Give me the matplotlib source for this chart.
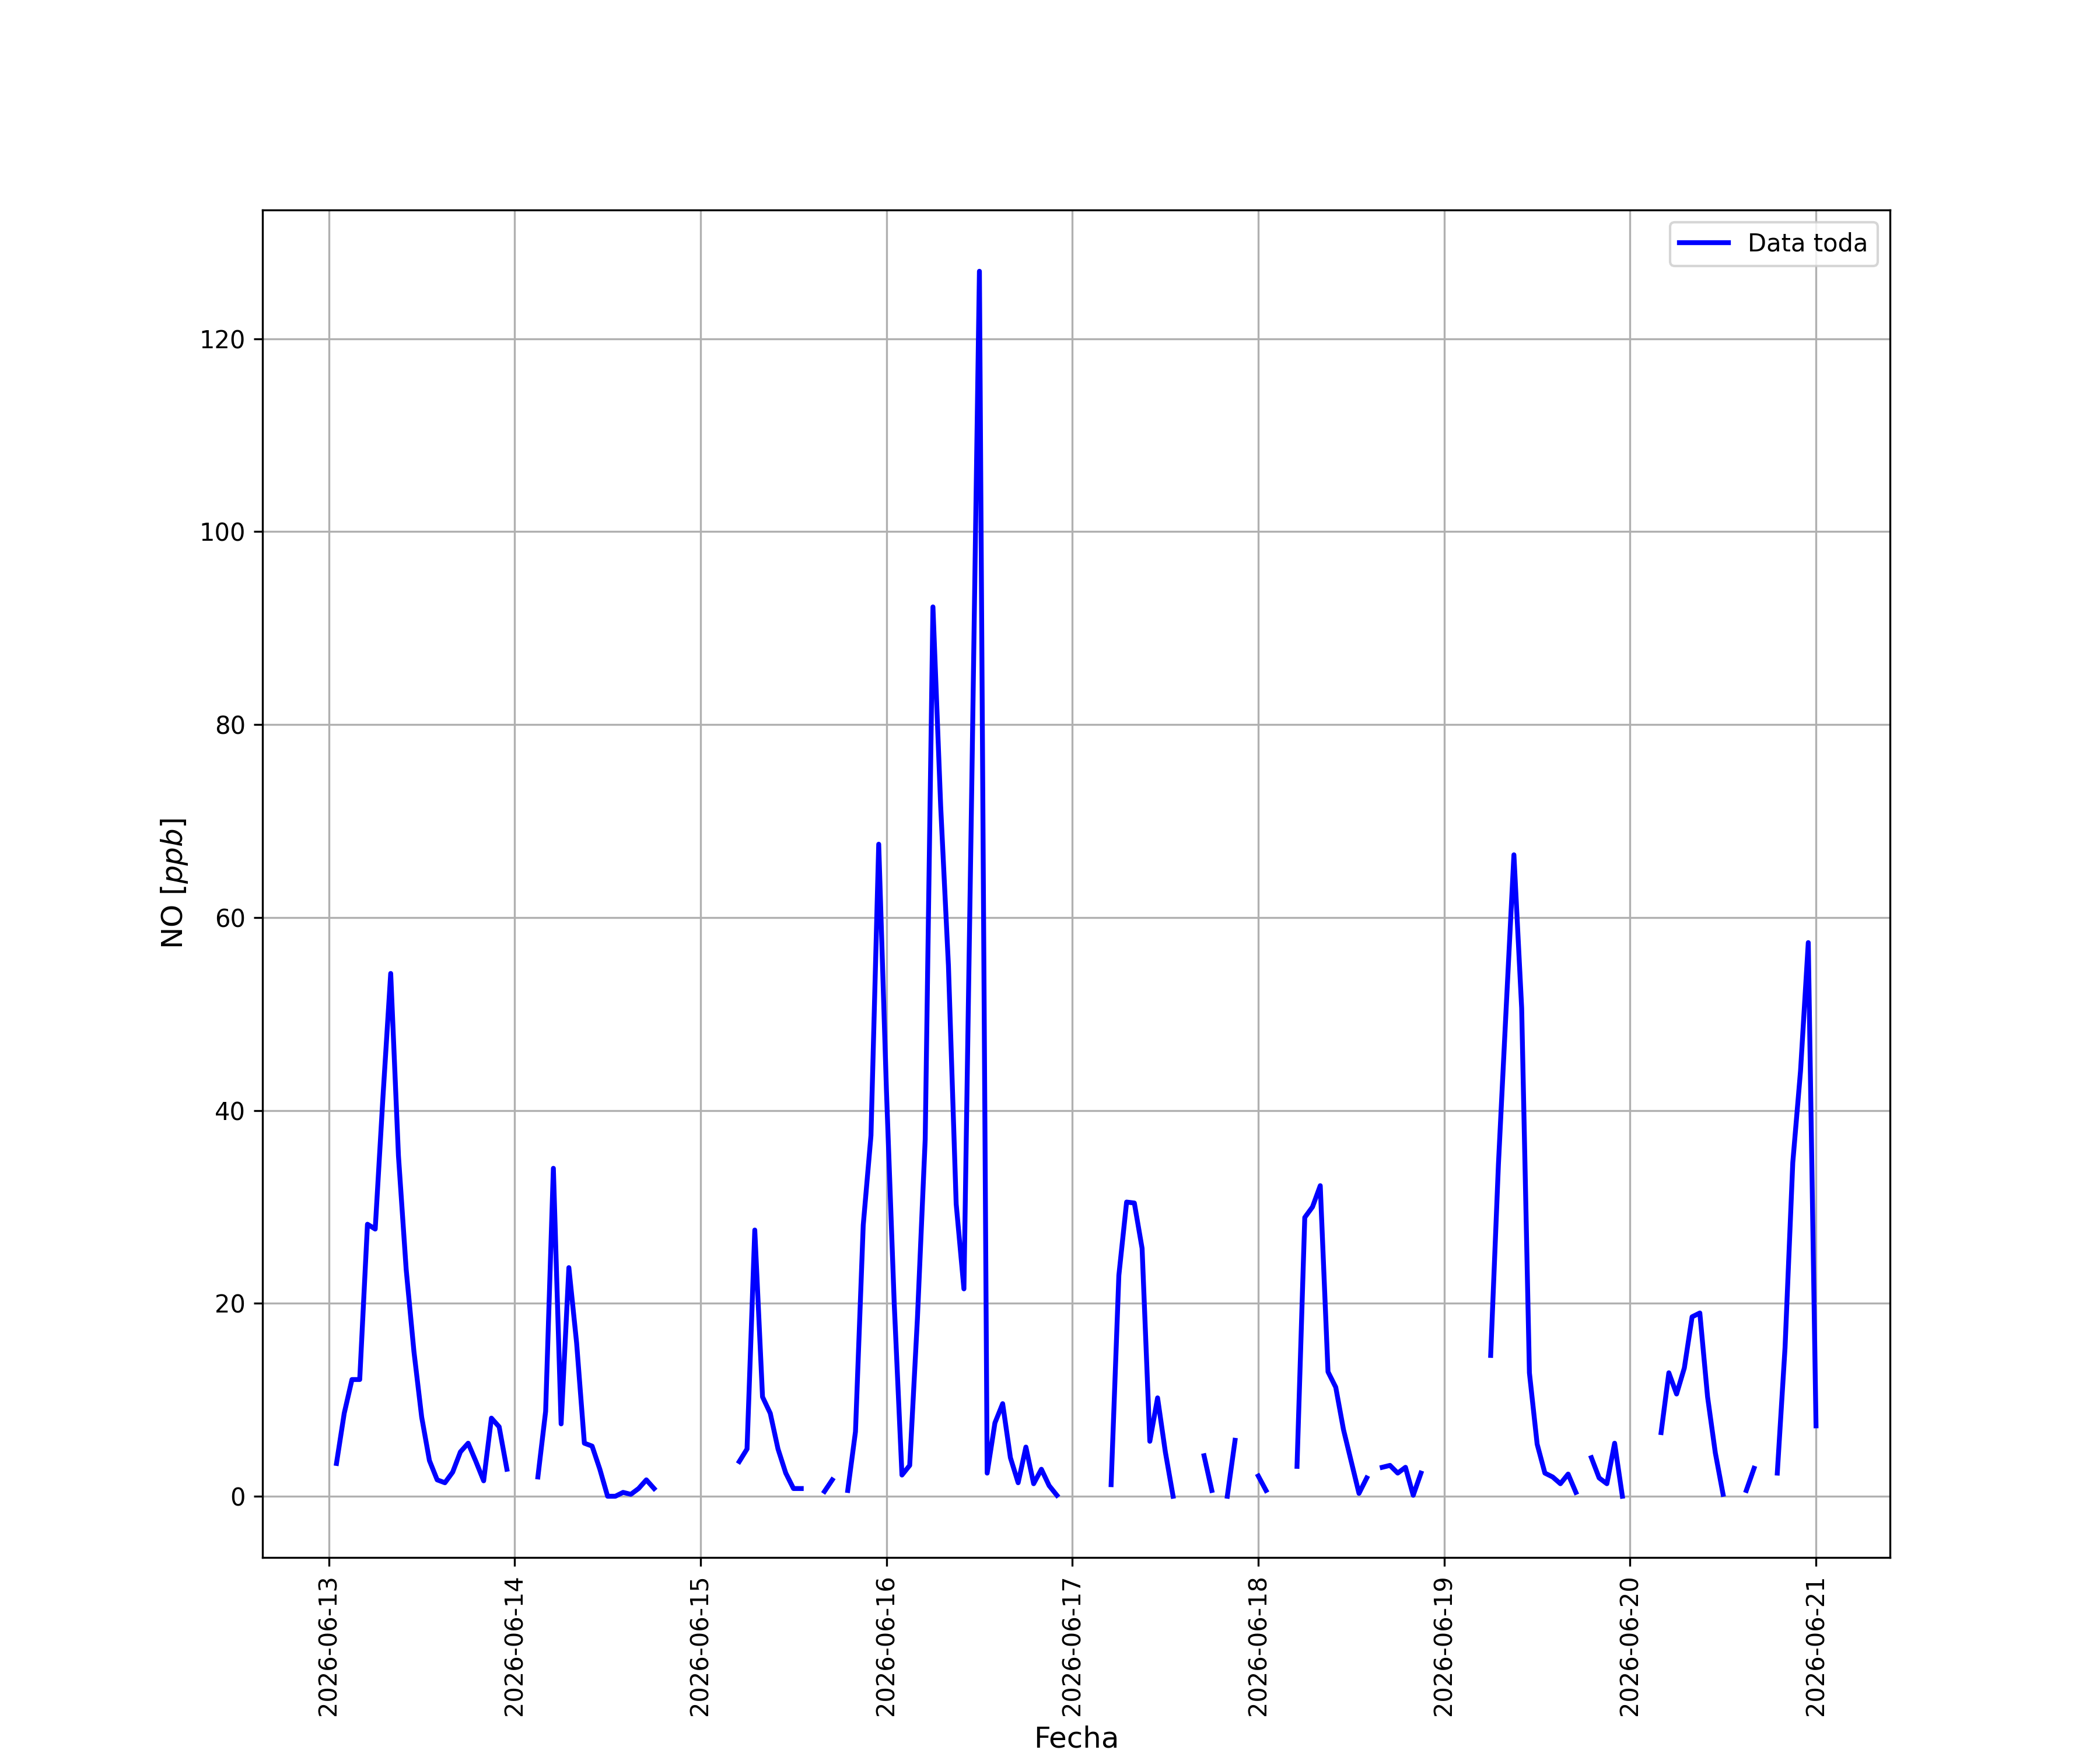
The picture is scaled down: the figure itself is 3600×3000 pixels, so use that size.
import numpy as np
import pandas as pd
import matplotlib
matplotlib.use("Agg")
import matplotlib.pyplot as plt
import matplotlib.dates as mdates

nan = np.nan

# NO horario [ppb], una lista por dia (00:00 ... 23:00)
no_13 = [nan, 3.4, 8.6, 12.1, 12.1, 28.2, 27.7, 41.4, 54.2, 35.3, 23.5, 15.0,
         8.2, 3.7, 1.7, 1.4, 2.5, 4.6, 5.5, 3.6, 1.6, 8.1, 7.2, 2.8]
no_14 = [nan, nan, nan, 2.0, 8.8, 34.0, 7.5, 23.7, 15.9, 5.5, 5.2, 2.8,
         0.0, 0.0, 0.4, 0.2, 0.8, 1.7, 0.8, nan, nan, nan, nan, nan]
no_15 = [nan, nan, nan, nan, nan, 3.6, 4.9, 27.6, 10.3, 8.6, 4.9, 2.4,
         0.8, 0.8, nan, nan, 0.5, 1.7, nan, 0.6, 6.7, 28.1, 37.4, 67.6]
no_16 = [42.0, 20.0, 2.2, 3.2, 18.5, 37.0, 92.2, 71.5, 55.0, 30.3, 21.5, 73.0,
         127.0, 2.4, 7.6, 9.6, 4.0, 1.4, 5.1, 1.3, 2.8, 1.1, 0.1, nan]
no_17 = [nan, nan, nan, nan, nan, 1.2, 22.9, 30.5, 30.4, 25.7, 5.7, 10.2,
         4.6, 0.0, nan, nan, nan, 4.2, 0.6, nan, 0.0, 5.8, nan, nan]
no_18 = [2.1, 0.6, nan, nan, nan, 3.1, 28.9, 30.0, 32.2, 12.9, 11.3, 6.9,
         3.6, 0.3, 1.9, nan, 3.0, 3.2, 2.4, 3.0, 0.1, 2.4, nan, nan]
no_19 = [nan, nan, nan, nan, nan, nan, 14.6, 34.4, 50.6, 66.5, 50.6, 12.8,
         5.4, 2.4, 2.0, 1.3, 2.3, 0.4, nan, 4.0, 1.9, 1.3, 5.5, 0.0]
no_20 = [nan, nan, nan, nan, 6.6, 12.8, 10.6, 13.3, 18.6, 19.0, 10.3, 4.5,
         0.2, nan, nan, 0.6, 2.9, nan, nan, 2.4, 15.4, 34.6, 44.1, 57.4]
no_21 = [7.3]

no = no_13 + no_14 + no_15 + no_16 + no_17 + no_18 + no_19 + no_20 + no_21
fechas = pd.date_range("2026-06-13 00:00", periods=len(no), freq="h")

fig, ax = plt.subplots(figsize=(12, 10), dpi=300)
ax.plot(fechas, no, color="b", lw=2, label="Data toda")
ax.grid()
ax.legend(loc="upper right")
ax.set_xlabel("Fecha", fontsize=12)
ax.set_ylabel("NO [$ppb$]", fontsize=12)
ax.xaxis.set_major_locator(mdates.DayLocator())
ax.xaxis.set_major_formatter(mdates.DateFormatter("%Y-%m-%d"))
plt.xticks(rotation=90)
fig.savefig("out.png", dpi=300)
